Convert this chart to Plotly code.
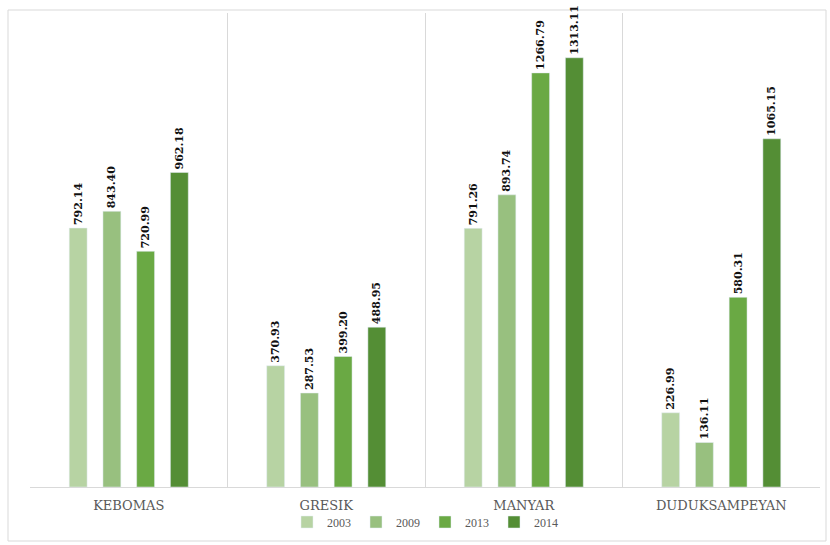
import plotly.graph_objects as go

categories = ["KEBOMAS", "GRESIK", "MANYAR", "DUDUKSAMPEYAN"]
years = ["2003", "2009", "2013", "2014"]
v2003 = [792.14, 370.93, 791.26, 226.99]
v2009 = [843.40, 287.53, 893.74, 136.11]
v2013 = [720.99, 399.20, 1266.79, 580.31]
v2014 = [962.18, 488.95, 1313.11, 1065.15]
series = [v2003, v2009, v2013, v2014]
colors = ["#b7d3a3", "#98c07f", "#6aa944", "#548e35"]

fig = go.Figure()
for yr, vals, col in zip(years, series, colors):
    fig.add_trace(go.Bar(
        x=categories, y=vals, name=yr, marker_color=col,
        text=[f"{v:.2f}" for v in vals], textposition="outside",
        textangle=-90, constraintext="none", cliponaxis=False,
        textfont=dict(family="DejaVu Serif", size=11, color="#111111", weight="bold"),
    ))

W, H = 830, 545
L, R, T, B = 30, 10, 13, 58
pw, ph = W - L - R, H - T - B

fig.update_layout(
    width=W, height=H, barmode="group", bargap=0.317, bargroupgap=0.47,
    margin=dict(l=L, r=R, t=T, b=B, autoexpand=False),
    plot_bgcolor="white", paper_bgcolor="white",
    font=dict(family="Liberation Serif", color="#595959"),
    legend=dict(orientation="h", x=0.5, xanchor="center", xref="paper",
                y=1 - 522 / H, yanchor="middle", yref="container",
                bgcolor="rgba(0,0,0,0)",
                font=dict(family="Liberation Serif", size=12, color="#595959"),
                itemwidth=30, tracegroupgap=0),
    xaxis=dict(showgrid=True, gridcolor="#d9d9d9", tickson="boundaries", ticks="",
               showline=True, linecolor="#d9d9d9", ticklabelstandoff=6,
               tickfont=dict(family="DejaVu Serif", size=13, color="#595959")),
    yaxis=dict(range=[0, 1450], showgrid=False, showticklabels=False, zeroline=False),
    shapes=[dict(type="rect", xref="paper", yref="paper",
                 x0=(8 - L) / pw, x1=(826 - L) / pw,
                 y0=-(541 - (H - B)) / ph, y1=((H - B) - 10) / ph,
                 line=dict(color="#d9d9d9", width=1), layer="below")],
)
fig.write_html("out.html")
